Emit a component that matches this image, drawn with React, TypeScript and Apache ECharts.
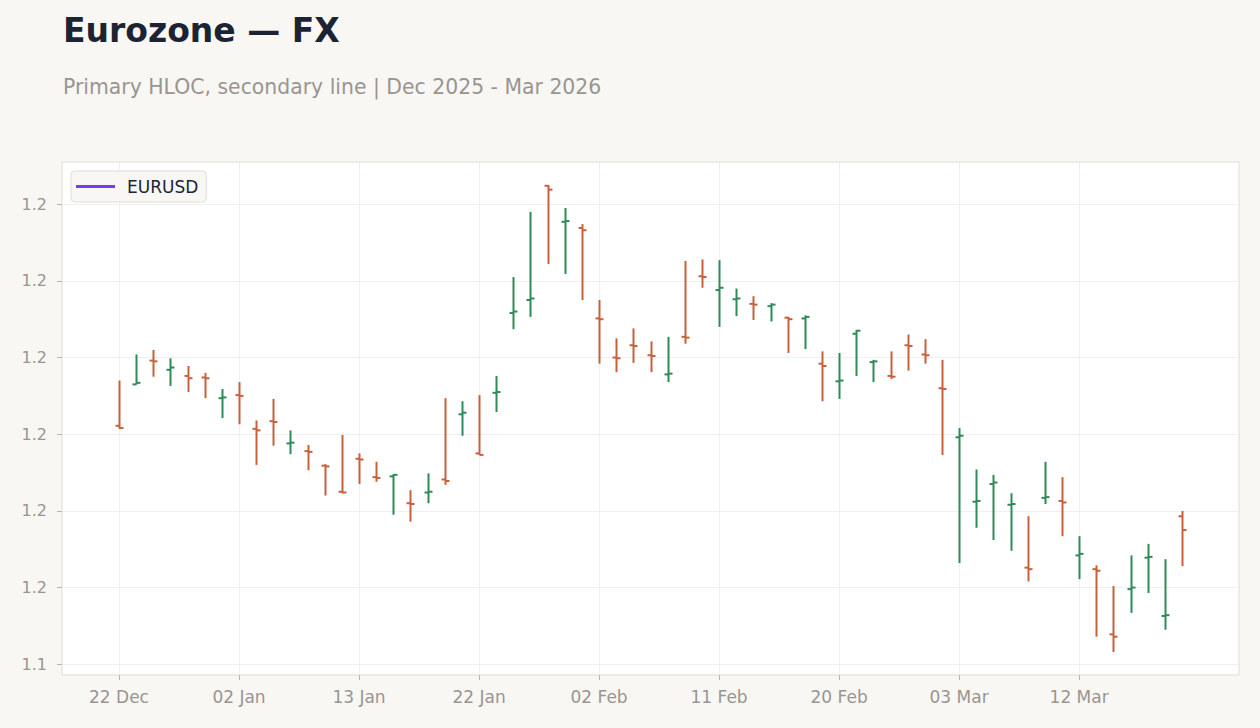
import React, { useEffect, useRef } from "react";
import * as echarts from "echarts";

const dates = [
  "22 Dec", "23 Dec", "24 Dec", "26 Dec", "29 Dec", "30 Dec", "31 Dec",
  "02 Jan", "05 Jan", "06 Jan", "07 Jan", "08 Jan", "09 Jan", "12 Jan",
  "13 Jan", "14 Jan", "15 Jan", "16 Jan", "19 Jan", "20 Jan", "21 Jan",
  "22 Jan", "23 Jan", "26 Jan", "27 Jan", "28 Jan", "29 Jan", "30 Jan",
  "02 Feb", "03 Feb", "04 Feb", "05 Feb", "06 Feb", "09 Feb", "10 Feb",
  "11 Feb", "12 Feb", "13 Feb", "16 Feb", "17 Feb", "18 Feb", "19 Feb",
  "20 Feb", "23 Feb", "24 Feb", "25 Feb", "26 Feb", "27 Feb", "02 Mar",
  "03 Mar", "04 Mar", "05 Mar", "06 Mar", "09 Mar", "10 Mar", "11 Mar",
  "12 Mar", "13 Mar", "16 Mar", "17 Mar", "18 Mar", "19 Mar", "20 Mar",
];

const opens = [
  1.1811, 1.1865, 1.1896, 1.1884, 1.1876, 1.1874, 1.1847, 1.1851, 1.1807, 1.1817,
  1.1788, 1.1778, 1.1759, 1.1725, 1.1768, 1.1744, 1.1745, 1.1710, 1.1724, 1.1741,
  1.1826, 1.1775, 1.1854, 1.1958, 1.1975, 1.2124, 1.2077, 1.2069, 1.1951, 1.1900,
  1.1916, 1.1903, 1.1878, 1.1927, 1.2006, 1.1988, 1.1976, 1.1970, 1.1967, 1.1952,
  1.1951, 1.1892, 1.1869, 1.1931, 1.1894, 1.1876, 1.1916, 1.1904, 1.1860, 1.1796,
  1.1712, 1.1735, 1.1708, 1.1626, 1.1717, 1.1713, 1.1642, 1.1624, 1.1539, 1.1598,
  1.1639, 1.1563, 1.1693,
];

const highs = [
  1.1870, 1.1904, 1.1910, 1.1899, 1.1889, 1.1880, 1.1859, 1.1868, 1.1818, 1.1846,
  1.1805, 1.1786, 1.1761, 1.1799, 1.1775, 1.1764, 1.1748, 1.1727, 1.1749, 1.1847,
  1.1843, 1.1851, 1.1876, 1.2005, 1.2090, 1.2125, 1.2095, 1.2074, 1.1975, 1.1925,
  1.1938, 1.1921, 1.1927, 1.2026, 1.2028, 1.2027, 1.1990, 1.1980, 1.1971, 1.1953,
  1.1955, 1.1908, 1.1906, 1.1936, 1.1897, 1.1908, 1.1930, 1.1924, 1.1897, 1.1808,
  1.1754, 1.1747, 1.1723, 1.1693, 1.1764, 1.1744, 1.1667, 1.1629, 1.1602, 1.1642,
  1.1657, 1.1637, 1.1700,
];

const lows = [
  1.1807, 1.1865, 1.1875, 1.1863, 1.1855, 1.1847, 1.1821, 1.1813, 1.1760, 1.1785,
  1.1774, 1.1753, 1.1720, 1.1723, 1.1735, 1.1738, 1.1695, 1.1686, 1.1710, 1.1734,
  1.1798, 1.1773, 1.1829, 1.1937, 1.1953, 1.2022, 1.2009, 1.1975, 1.1892, 1.1881,
  1.1893, 1.1881, 1.1868, 1.1918, 1.1991, 1.1940, 1.1954, 1.1949, 1.1947, 1.1906,
  1.1911, 1.1843, 1.1846, 1.1876, 1.1868, 1.1872, 1.1883, 1.1892, 1.1773, 1.1632,
  1.1678, 1.1662, 1.1648, 1.1608, 1.1709, 1.1667, 1.1611, 1.1536, 1.1516, 1.1567,
  1.1593, 1.1545, 1.1628,
];

const closes = [
  1.1808, 1.1867, 1.1895, 1.1887, 1.1873, 1.1873, 1.1848, 1.1850, 1.1805, 1.1816,
  1.1789, 1.1777, 1.1758, 1.1724, 1.1767, 1.1743, 1.1747, 1.1709, 1.1725, 1.1739,
  1.1828, 1.1773, 1.1855, 1.1960, 1.1977, 1.2119, 1.2078, 1.2066, 1.1950, 1.1899,
  1.1915, 1.1902, 1.1879, 1.1926, 1.2005, 1.1991, 1.1977, 1.1969, 1.1969, 1.1950,
  1.1953, 1.1889, 1.1870, 1.1935, 1.1895, 1.1875, 1.1915, 1.1903, 1.1859, 1.1798,
  1.1713, 1.1737, 1.1709, 1.1624, 1.1718, 1.1711, 1.1644, 1.1622, 1.1536, 1.1600,
  1.1640, 1.1564, 1.1675,
];

// Secondary line series (no visible points in the reference)
const eurusdLine: (number | null)[] = [];

const yTicks = [1.15, 1.16, 1.17, 1.18, 1.19, 1.2, 1.21];
const yMin = 1.1486;
const yMax = 1.2155;

const GREEN = "#2e8b57";
const RED = "#c9603c";
const PURPLE = "#7c3aed";
const GREY = "#999591";
const DARK = "#1c2433";
const FONT = "DejaVu Sans";

export default function App() {
  const ref = useRef<HTMLDivElement>(null);

  useEffect(() => {
    if (!ref.current) return;
    const chart = echarts.init(ref.current, undefined, { renderer: "svg" });
    const ohlc = dates.map((_, i) => [i, opens[i], highs[i], lows[i], closes[i]]);

    chart.setOption({
      animation: false,
      backgroundColor: "#f8f7f4",
      textStyle: { fontFamily: FONT },
      title: [
        {
          text: "Eurozone — FX",
          left: 63,
          top: 14,
          padding: 0,
          textStyle: { fontSize: 33, fontWeight: "bold", color: DARK, fontFamily: FONT },
        },
        {
          text: "Primary HLOC, secondary line | Dec 2025 - Mar 2026",
          left: 63,
          top: 77,
          padding: 0,
          textStyle: { fontSize: 20.4, fontWeight: "normal", color: GREY, fontFamily: FONT },
        },
      ],
      legend: {
        data: [{ name: "EURUSD", icon: "rect" }],
        left: 71,
        top: 171,
        orient: "horizontal",
        padding: [7, 8, 7, 5],
        itemWidth: 39,
        itemHeight: 3,
        backgroundColor: "#f8f7f4",
        borderColor: "#e0ddd8",
        borderWidth: 1,
        borderRadius: 4,
        textStyle: { fontSize: 17, color: DARK, fontFamily: FONT, padding: [0, 0, 0, 7] },
      },
      grid: [
        {
          left: 62,
          right: 21,
          top: 162,
          bottom: 53,
          show: true,
          backgroundColor: "#ffffff",
          borderColor: "#e0ddd8",
          borderWidth: 1,
        },
        {
          left: 119,
          right: 78,
          top: 162,
          bottom: 53,
        },
      ],
      xAxis: [
        { gridIndex: 0, type: "value", show: false, min: 0, max: 1 },
        {
          gridIndex: 1,
          type: "category",
          data: dates,
          boundaryGap: false,
          axisLine: { show: false },
          axisTick: { show: true, interval: 6, length: 5, lineStyle: { color: "#b8b3ad" } },
          axisLabel: { interval: 6, color: GREY, fontSize: 17, margin: 13, fontFamily: FONT },
          splitLine: { show: true, interval: 6, lineStyle: { color: "#efefef", width: 1 } },
        },
      ],
      yAxis: [
        {
          gridIndex: 0,
          type: "value",
          min: yMin,
          max: yMax,
          axisLine: { show: false },
          axisTick: { show: true, length: 5, customValues: yTicks, lineStyle: { color: "#b8b3ad" } },
          axisLabel: {
            customValues: yTicks,
            color: GREY,
            fontSize: 16,
            margin: 15,
            fontFamily: FONT,
            formatter: (v: number) => v.toFixed(1),
          },
          splitLine: { show: true, lineStyle: { color: "#efefef", width: 1 } },
        },
        { gridIndex: 1, type: "value", min: yMin, max: yMax, show: false, splitLine: { show: false } },
      ],
      series: [
        {
          name: "HLOC",
          type: "custom",
          xAxisIndex: 1,
          yAxisIndex: 1,
          data: ohlc,
          encode: { x: 0, y: [1, 2, 3, 4] },
          renderItem: (params: any, api: any) => {
            const i = api.value(0);
            const o = api.value(1);
            const h = api.value(2);
            const l = api.value(3);
            const c = api.value(4);
            const po = api.coord([i, o]);
            const ph = api.coord([i, h]);
            const pl = api.coord([i, l]);
            const pc = api.coord([i, c]);
            const x = Math.round(po[0]) + 0.5;
            const color = c >= o ? GREEN : RED;
            const st = { stroke: color, lineWidth: 2 };
            return {
              type: "group",
              children: [
                { type: "line", shape: { x1: x, y1: ph[1], x2: x, y2: pl[1] }, style: st },
                { type: "line", shape: { x1: x - 4, y1: po[1], x2: x, y2: po[1] }, style: st },
                { type: "line", shape: { x1: x, y1: pc[1], x2: x + 4, y2: pc[1] }, style: st },
              ],
            };
          },
        },
        {
          name: "EURUSD",
          type: "line",
          xAxisIndex: 1,
          yAxisIndex: 1,
          data: eurusdLine,
          symbol: "none",
          color: PURPLE,
          lineStyle: { color: PURPLE, width: 3 },
        },
      ],
    });

    return () => chart.dispose();
  }, []);

  return <div ref={ref} style={{ width: 1260, height: 728, position: "absolute", left: 0, top: 0 }} />;
}
